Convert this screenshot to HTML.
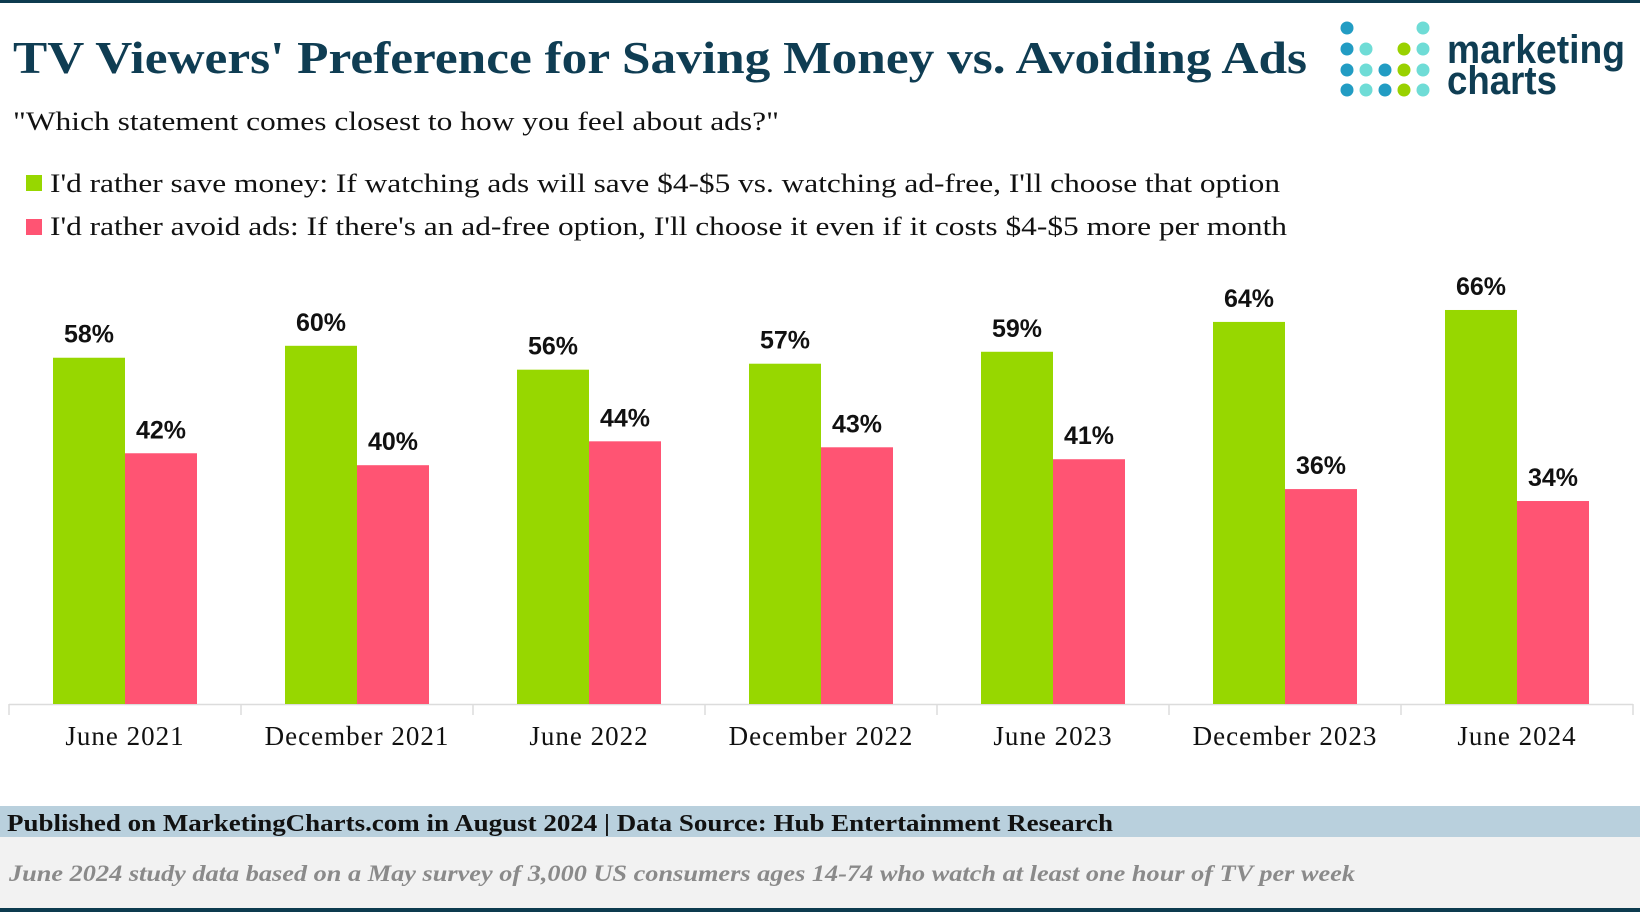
<!DOCTYPE html>
<html><head><meta charset="utf-8"><style>
html,body{margin:0;padding:0;background:#fff;}
svg{display:block;font-family:"Liberation Serif",serif;}
</style></head><body>
<svg id="chart" width="1640" height="912" viewBox="0 0 1640 912" xmlns="http://www.w3.org/2000/svg">
<rect x="0" y="0" width="1640" height="3" fill="#0d3b4f"/>
<text x="13" y="73" font-size="46" font-weight="bold" fill="#0f3d53" textLength="1294" lengthAdjust="spacingAndGlyphs">TV Viewers' Preference for Saving Money vs. Avoiding Ads</text>
<g>
<g id="dots"></g>
<text x="1447" y="63" font-family="Liberation Sans, sans-serif" font-size="40" font-weight="bold" fill="#0f3d53" textLength="178" lengthAdjust="spacingAndGlyphs">marketing</text>
<text x="1447" y="94" font-family="Liberation Sans, sans-serif" font-size="40" font-weight="bold" fill="#0f3d53" textLength="110" lengthAdjust="spacingAndGlyphs">charts</text>
</g>
<text x="13" y="130" font-size="26" fill="#111" textLength="766" lengthAdjust="spacingAndGlyphs">"Which statement comes closest to how you feel about ads?"</text>
<g>
<rect x="26" y="175" width="16" height="16" fill="#97d700"/>
<text x="50" y="192" font-size="26" fill="#111" textLength="1230" lengthAdjust="spacingAndGlyphs">I'd rather save money: If watching ads will save $4-$5 vs. watching ad-free, I'll choose that option</text>
<rect x="26" y="219" width="16" height="16" fill="#ff5473"/>
<text x="50" y="235" font-size="26" fill="#111" textLength="1237" lengthAdjust="spacingAndGlyphs">I'd rather avoid ads: If there's an ad-free option, I'll choose it even if it costs $4-$5 more per month</text>
</g>
<g id="plot"></g>
<rect x="0" y="806" width="1640" height="31" fill="#b9d0dd"/>
<text x="7" y="831" font-size="24" font-weight="bold" fill="#111" textLength="1106" lengthAdjust="spacingAndGlyphs">Published on MarketingCharts.com in August 2024 | Data Source: Hub Entertainment Research</text>
<rect x="0" y="837" width="1640" height="71" fill="#f2f2f2"/>
<text x="9" y="881" font-size="23" font-style="italic" font-weight="bold" fill="#8a8a8a" textLength="1346" lengthAdjust="spacingAndGlyphs">June 2024 study data based on a May survey of 3,000 US consumers ages 14-74 who watch at least one hour of TV per week</text>
<rect x="0" y="908" width="1640" height="4" fill="#0d3b4f"/>
</svg>
<script>
const categories = ["June 2021","December 2021","June 2022","December 2022","June 2023","December 2023","June 2024"];
const saveMoney = [58,60,56,57,59,64,66];
const avoidAds = [42,40,44,43,41,36,34];
const NS="http://www.w3.org/2000/svg";
const plot=document.getElementById('plot');
const x0=9, band=232, baseY=704, pxPer=5.97, bw=72;
function xc(i){return x0+band*i+band/2;}
function y(v){return baseY-v*pxPer;}
function mk(tag,attrs){const e=document.createElementNS(NS,tag);for(const k in attrs)e.setAttribute(k,attrs[k]);return e;}
const axis=mk('line',{x1:x0,x2:x0+band*categories.length,y1:baseY+0.5,y2:baseY+0.5,stroke:'#dcdcdc','stroke-width':1.5});


plot.appendChild(axis);
for(let i=0;i<=categories.length;i++){
 const t=mk('line',{x1:x0+band*i,x2:x0+band*i,y1:baseY,y2:baseY+11,stroke:'#dcdcdc','stroke-width':1.5});
 
 
 plot.appendChild(t);
}
const series=[{vals:saveMoney,color:'#97d700',off:-bw,name:'save-money'},{vals:avoidAds,color:'#ff5473',off:0,name:'avoid-ads'}];
categories.forEach((c,i)=>{
 series.forEach(s=>{
  const v=s.vals[i];
  const r=mk('rect',{x:xc(i)+s.off,y:y(v),width:bw,height:baseY-y(v),fill:s.color});
  
  
  plot.appendChild(r);
  const l=mk('text',{x:xc(i)+s.off+bw/2,y:y(v)-15,'text-anchor':'middle','font-size':25,'font-weight':'bold',fill:'#111','font-family':'Liberation Sans, sans-serif'});
  l.textContent=v+'%';
  
  
  plot.appendChild(l);
 });
 const xl=mk('text',{x:xc(i),y:745,'text-anchor':'middle','font-size':27,'letter-spacing':'1',fill:'#111'});
 xl.textContent=c;
 
 
 plot.appendChild(xl);
});
const B='#229cc3',T='#6fdcd6',G='#99d100';
const dotRows=[[B,null,null,null,T],[B,T,null,G,T],[B,T,B,G,T],[B,T,B,G,T]];
const dx=[1347,1366,1385,1404,1423], dy=[28,49,70,90];
const dg=document.getElementById('dots');
dotRows.forEach((row,r)=>row.forEach((col,c)=>{
 if(!col)return;
 const d=mk('circle',{cx:dx[c],cy:dy[r],r:6.5,fill:col});
 
 
 dg.appendChild(d);
}));
</script>
</body></html>
